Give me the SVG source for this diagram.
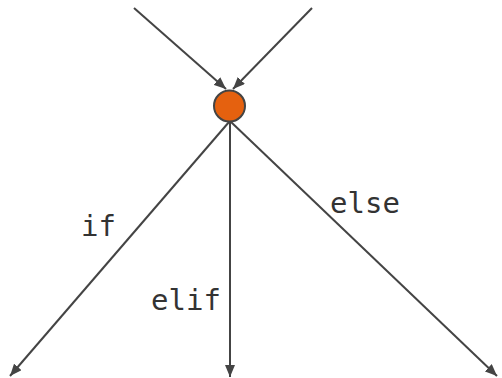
<svg xmlns="http://www.w3.org/2000/svg" width="502" height="378" viewBox="0 0 502 378">
<style>
.edge{stroke:#444;stroke-width:2;fill:none}
.lbl{font-family:"DejaVu Sans Mono","Liberation Mono",monospace;font-size:29px;fill:#333}
</style>
<defs>
<marker id="arr" viewBox="0 0 12 10" refX="12" refY="5" markerWidth="12" markerHeight="10" markerUnits="userSpaceOnUse" orient="auto">
<path d="M0,0 L12,5 L0,10 Z" fill="#444"/>
</marker>
</defs>
<rect width="502" height="378" fill="#fff"/>
<g id="connectors">
<line class="edge" x1="134" y1="8" x2="226" y2="89" marker-end="url(#arr)"/>
<line class="edge" x1="312" y1="8" x2="233" y2="89" marker-end="url(#arr)"/>
<line class="edge" x1="229" y1="122" x2="10" y2="376" marker-end="url(#arr)"/>
<line class="edge" x1="230" y1="122" x2="230" y2="377" marker-end="url(#arr)"/>
<line class="edge" x1="231" y1="122" x2="497" y2="376" marker-end="url(#arr)"/>
<text class="lbl" x="81" y="236">if</text>
<text class="lbl" x="151" y="310">elif</text>
<text class="lbl" x="330" y="213">else</text>
</g>
<g id="node">
<circle cx="229.5" cy="106" r="15.5" fill="#E5610F" stroke="#444" stroke-width="2"/>
</g>
</svg>
